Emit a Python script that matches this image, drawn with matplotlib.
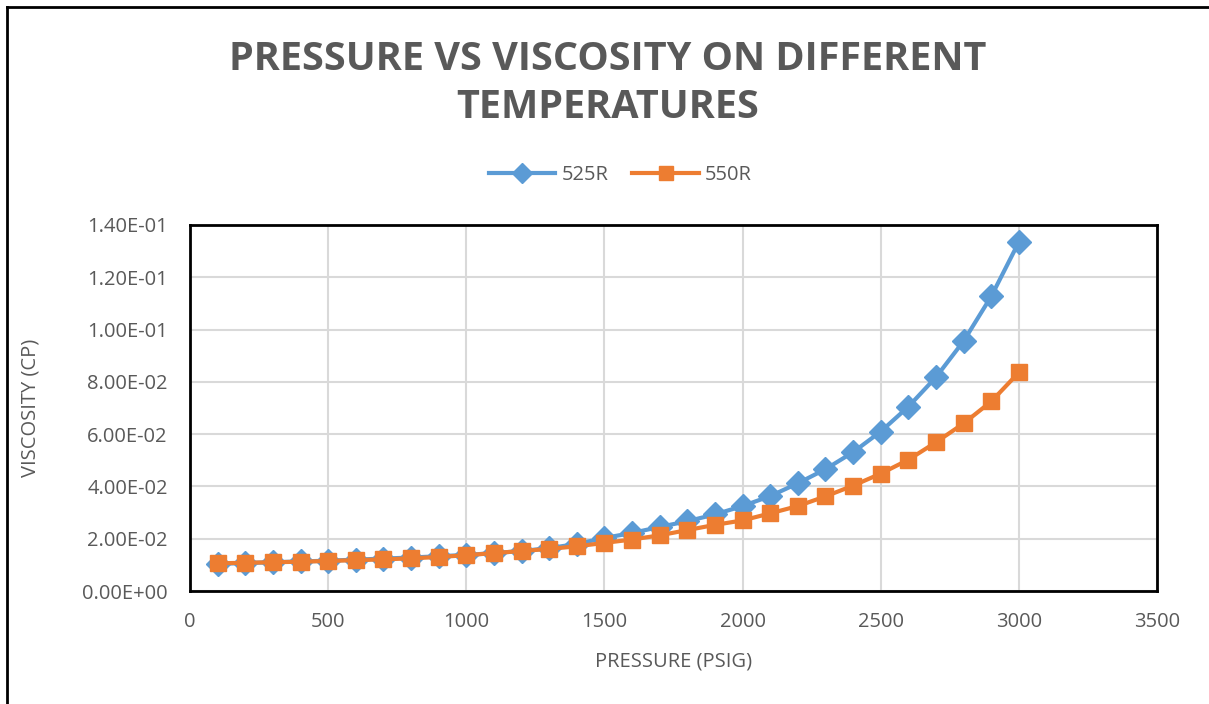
import numpy as np
import matplotlib.pyplot as plt
from matplotlib.lines import Line2D

# pressure steps (psig) and viscosity (cp) at the two temperatures
pressure = [100, 200, 300, 400, 500, 600, 700, 800, 900, 1000,
            1100, 1200, 1300, 1400, 1500, 1600, 1700, 1800, 1900, 2000,
            2100, 2200, 2300, 2400, 2500, 2600, 2700, 2800, 2900, 3000]
visc_525 = [0.0104, 0.0107, 0.0110, 0.0113, 0.0116, 0.0120, 0.0124, 0.0128, 0.0133, 0.0138,
            0.0145, 0.0153, 0.0164, 0.0180, 0.0203, 0.0222, 0.0245, 0.0267, 0.0293, 0.0325,
            0.0363, 0.0412, 0.0466, 0.0531, 0.0610, 0.0705, 0.0818, 0.0956, 0.1127, 0.1335]
visc_550 = [0.0106, 0.0108, 0.0110, 0.0112, 0.0115, 0.0118, 0.0121, 0.0125, 0.0130, 0.0137,
            0.0145, 0.0153, 0.0161, 0.0171, 0.0184, 0.0197, 0.0213, 0.0233, 0.0253, 0.0270,
            0.0297, 0.0325, 0.0362, 0.0403, 0.0449, 0.0502, 0.0569, 0.0641, 0.0725, 0.0836]

xticks = [0, 500, 1000, 1500, 2000, 2500, 3000, 3500]
yticks = [0, 0.02, 0.04, 0.06, 0.08, 0.10, 0.12, 0.14]

grey = '#595959'
blue = '#5B9BD5'
orange = '#ED7D31'

plt.rcParams['font.family'] = ['Open Sans', 'DejaVu Sans']

fig = plt.figure(figsize=(12.09, 7.04), dpi=100)
ax = fig.add_axes([0.1572, 0.1605, 0.7998, 0.5199])

ax.plot(pressure, visc_525, color=blue, lw=3, marker='D', ms=12, label='525R', zorder=3)
ax.plot(pressure, visc_550, color=orange, lw=3, marker='s', ms=12, label='550R', zorder=4)

ax.set_xlim(0, 3500)
ax.set_ylim(0, 0.14)
ax.set_xticks(xticks)
ax.set_yticks(yticks)
ax.set_yticklabels(['%.2E' % v for v in yticks])
ax.grid(True, color='#D9D9D9', lw=1.5)
ax.set_axisbelow(True)
ax.tick_params(length=0, labelsize=14.5, labelcolor=grey)
ax.tick_params(axis='y', pad=16)
ax.tick_params(axis='x', pad=15)
for s in ax.spines.values():
    s.set_color('black')
    s.set_linewidth(2)

ax.set_xlabel('PRESSURE (PSIG)', fontsize=14.5, color=grey, labelpad=14)
ax.set_ylabel('VISCOSITY (CP)', fontsize=14.5, color=grey, labelpad=30)

fig.text(0.503, 0.882, 'PRESSURE VS VISCOSITY ON DIFFERENT\nTEMPERATURES',
         ha='center', va='center', fontsize=28.5, fontweight='bold', color=grey,
         linespacing=1.3)

ax.legend(loc='center', bbox_to_anchor=(0.513, 0.7514), bbox_transform=fig.transFigure,
          ncol=2, frameon=False, fontsize=14.5, labelcolor=grey,
          handlelength=3.3, handletextpad=0.3, columnspacing=1.2, markerscale=0.85)

# outer chart border (top and left edges)
fig.add_artist(Line2D([0.0058, 1.0], [0.990, 0.990], color='black', lw=2))
fig.add_artist(Line2D([0.0058, 0.0058], [0.0, 0.990], color='black', lw=2))

fig.savefig('out.png', dpi=100)
